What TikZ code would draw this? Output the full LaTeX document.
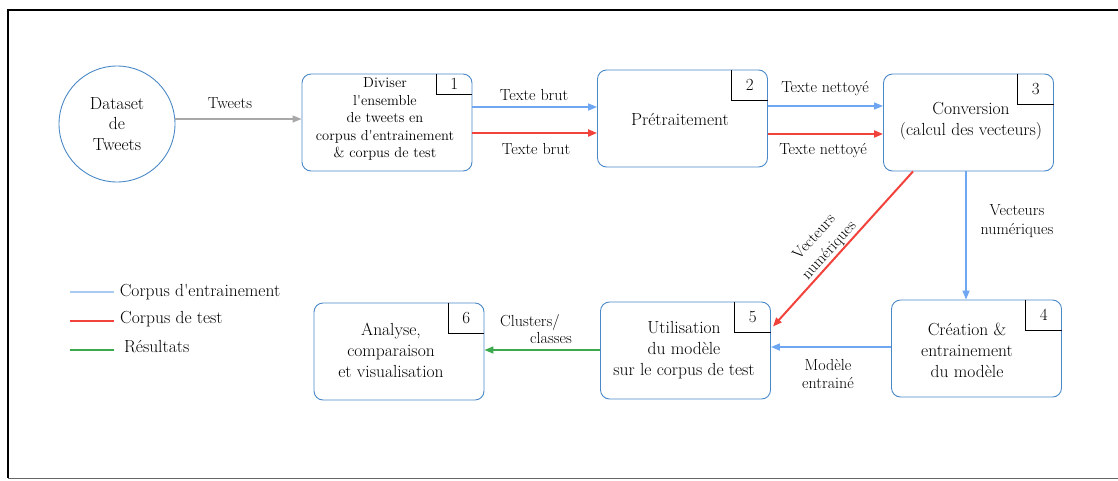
\documentclass[tikz,border=0pt]{standalone}
\usetikzlibrary{arrows.meta,calc}
\definecolor{bordblue}{HTML}{4A88C8}
\definecolor{arrblue}{HTML}{6EA6F2}
\definecolor{arrred}{HTML}{F2423C}
\definecolor{arrgreen}{HTML}{3CAA4C}
\definecolor{arrgray}{HTML}{A8A8A8}
\definecolor{legblue}{HTML}{A9CBF2}
\begin{document}
\begin{tikzpicture}[x=1pt,y=-1pt,
  procbox/.style={draw=bordblue,line width=0.9pt,rounded corners=9pt,minimum width=170pt,minimum height=97pt,inner sep=0pt},
  numcorner/.style={minimum width=36pt,minimum height=30pt,inner sep=0pt,anchor=north east,font=\fontsize{17}{17}\selectfont},
  boxtext/.style={align=center,font=\fontsize{17.5}{21}\selectfont,inner sep=0pt},
  smalltext/.style={align=center,font=\fontsize{14.5}{17.5}\selectfont,inner sep=0pt},
  lbl/.style={font=\fontsize{16}{18.5}\selectfont,align=center,inner sep=0pt},
  legtext/.style={font=\fontsize{17.5}{20}\selectfont,anchor=west,inner sep=0pt},
  tip/.style={-{Triangle[length=9pt,width=7pt]}},
  bluearrow/.style={tip,draw=arrblue,fill=arrblue,line width=1.6pt},
  redarrow/.style={tip,draw=arrred,fill=arrred,line width=2pt},
  greenarrow/.style={tip,draw=arrgreen,fill=arrgreen,line width=1.6pt},
  grayarrow/.style={tip,draw=arrgray,fill=arrgray,line width=1.3pt},
  corner/.style={draw=black,line width=0.9pt}
]
\useasboundingbox (0,0) rectangle (1118,480);
% frame
\draw[line width=1.2pt] (1118,10) -- (8,10) -- (8,478);
\draw[line width=1pt,black!60] (8,478) -- (1118,478);

% dataset circle
\node[circle,draw=bordblue,line width=0.9pt,minimum size=116pt,inner sep=0pt,align=center,font=\fontsize{17.5}{20.5}\selectfont] (ds) at (117,124) {Dataset\\de\\Tweets};

% process boxes
\node[procbox] (b1) at (387,122.5) {};
\node[procbox] (b2) at (682.5,118.5) {};
\node[procbox] (b3) at (968.5,122.5) {};
\node[procbox] (b4) at (976.5,348.5) {};
\node[procbox] (b5) at (685.5,350.5) {};
\node[procbox] (b6) at (399,351.5) {};

% number corners
\node[numcorner,minimum height=20pt] (n1) at (b1.north east) {1};
\node[numcorner] (n2) at (b2.north east) {2};
\node[numcorner] (n3) at (b3.north east) {3};
\node[numcorner] (n4) at (b4.north east) {4};
\node[numcorner] (n5) at (b5.north east) {5};
\node[numcorner] (n6) at (b6.north east) {6};
\foreach \n in {n1,n2,n3,n4,n5,n6}
  \draw[corner] (\n.north west) -- (\n.south west) -- (\n.south east);

% box texts
\node[smalltext] (t1) at (385,119) {Diviser\\l\textquotesingle ensemble\\de tweets en\\corpus d\textquotesingle entrainement\\\& corpus de test};
\node[boxtext] (t2) at (680,119) {Prétraitement};
\node[boxtext] (t3) at (971,121) {Conversion\\(calcul des vecteurs)};
\node[boxtext] (t4) at (967,350) {Création \&\\entrainement\\du modèle};
\node[boxtext] (t5) at (684,350) {Utilisation\\du modèle\\sur le corpus de test};
\node[boxtext] (t6) at (391,350) {Analyse,\\comparaison\\et visualisation};

% helper levels
\coordinate (yt) at (0,119);
\coordinate (yb1) at (0,107);
\coordinate (yr1) at (0,133);
\coordinate (yb2) at (0,106);
\coordinate (yr2) at (0,134);
\coordinate (vx) at (966,0);
\coordinate (rx) at (913,0);
\coordinate (yb3) at (0,347);
\coordinate (yg) at (0,350);

% connectors
\draw[grayarrow] (ds.east |- yt) -- (b1.west |- yt);
\node[lbl] (lt) at (230,103) {Tweets};

\draw[bluearrow] (b1.east |- yb1) -- (b2.west |- yb1);
\draw[redarrow] (b1.east |- yr1) -- (b2.west |- yr1);
\node[lbl] (l1a) at (534,95) {Texte brut};
\node[lbl] (l1b) at (536,149) {Texte brut};

\draw[bluearrow] (b2.east |- yb2) -- (b3.west |- yb2);
\draw[redarrow] (b2.east |- yr2) -- (b3.west |- yr2);
\node[lbl] (l2a) at (825,89) {Texte nettoyé};
\node[lbl] (l2b) at (823,151) {Texte nettoyé};

\draw[bluearrow] (b3.south -| vx) -- (b4.north -| vx);
\node[lbl] (l3) at (1017,221) {Vecteurs\\numériques};

\draw[redarrow] (b3.south -| rx) -- ($(b5.north east)+(2,25)$);
\node[lbl,rotate=48,font=\fontsize{16}{20}\selectfont] (l4) at (822,244) {Vecteurs\\numériques};

\draw[bluearrow] (b4.west |- yb3) -- (b5.east |- yb3);
\node[lbl] (l5) at (828,374) {Modèle\\entrainé};

\draw[greenarrow] (b5.west |- yg) -- (b6.east |- yg);
\node[lbl,anchor=west] (l6a) at (500,322) {Clusters/};
\node[lbl,anchor=west] (l6b) at (530,338) {classes};

% legend
\coordinate (lg1) at (70,292);
\coordinate (lg2) at (70,321);
\coordinate (lg3) at (70,350);
\draw[legblue,line width=1.6pt] (lg1) -- ++(44,0) node[legtext,black,xshift=5pt] (lt1) {Corpus d\textquotesingle entrainement};
\draw[arrred,line width=2.4pt] (lg2) -- ++(44,0) node[legtext,black,xshift=5pt,yshift=2pt] (lt2) {Corpus de test};
\draw[arrgreen,line width=2pt] (lg3) -- ++(44,0) node[legtext,black,xshift=9pt,yshift=3pt] (lt3) {Résultats};
\end{tikzpicture}
\end{document}
